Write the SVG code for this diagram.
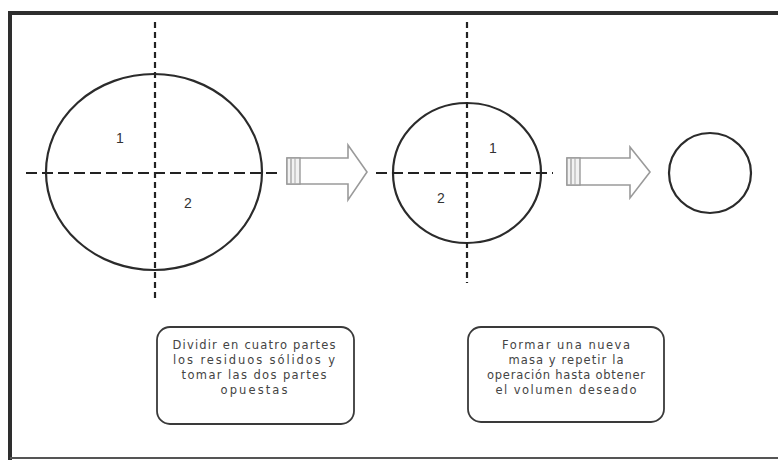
<svg xmlns="http://www.w3.org/2000/svg" width="778" height="460" viewBox="0 0 778 460">
<style>
.circ{fill:none;stroke:#2b2b2b;stroke-width:2.2}
.dh{stroke:#222;stroke-width:2;stroke-dasharray:11 5}
.dv{stroke:#222;stroke-width:2.2;stroke-dasharray:6 4}
.num{font-family:"Liberation Sans",Arial,sans-serif;font-size:14px;fill:#333;text-anchor:middle}
.box{fill:#fff;stroke:#3a3a3a;stroke-width:1.8}
.bt{font-family:"DejaVu Sans","Liberation Sans",sans-serif;font-size:11.5px;fill:#444;text-anchor:middle}
.arr{fill:#fff;stroke:#9a9a9a;stroke-width:1.6;stroke-linejoin:miter}
.tail{fill:#f2f2f2;stroke:#9a9a9a;stroke-width:1.4}
</style>
<rect width="778" height="460" fill="#fff"/>
<g id="frame">
<path d="M10,460 V13 H778" fill="none" stroke="#2e2e2e" stroke-width="4"/>
<path d="M10,458 H778" fill="none" stroke="#555" stroke-width="2"/>
</g>
<g id="node-big">
<ellipse class="circ" cx="154" cy="172" rx="108" ry="98"/>
<line class="dh" x1="26" y1="173" x2="280" y2="173"/>
<line class="dv" x1="155" y1="22" x2="155" y2="300"/>
<text class="num" x="120" y="143">1</text>
<text class="num" x="188" y="208">2</text>
</g>
<g id="node-mid">
<ellipse class="circ" cx="467" cy="173" rx="74" ry="70"/>
<line class="dh" x1="376" y1="173" x2="553" y2="173"/>
<line class="dv" x1="467" y1="22" x2="467" y2="283"/>
<text class="num" x="493" y="153">1</text>
<text class="num" x="441" y="203">2</text>
</g>
<g id="node-small">
<ellipse class="circ" cx="710" cy="173" rx="41" ry="40"/>
</g>
<g id="connectors">
<g id="arrow1">
<polygon class="arr" points="287,158 348,158 348,145 367,172 348,200 348,184 287,184"/>
<rect class="tail" x="287" y="158" width="13" height="26"/>
<line x1="291" y1="158" x2="291" y2="184" stroke="#aaa" stroke-width="1.5"/>
<line x1="295" y1="158" x2="295" y2="184" stroke="#aaa" stroke-width="1"/>
</g>
<g id="arrow2">
<polygon class="arr" points="567,158 630,158 630,147 650,172 630,198 630,185 567,185"/>
<rect class="tail" x="567" y="158" width="13" height="27"/>
<line x1="571" y1="158" x2="571" y2="185" stroke="#aaa" stroke-width="1.5"/>
<line x1="575" y1="158" x2="575" y2="185" stroke="#aaa" stroke-width="1"/>
</g>
</g>
<g id="box1">
<rect class="box" x="157" y="327" width="197" height="97" rx="13"/>
<text class="bt" x="254" y="349" textLength="163" lengthAdjust="spacing">Dividir en cuatro partes</text>
<text class="bt" x="254" y="364" textLength="162" lengthAdjust="spacing">los residuos sólidos y</text>
<text class="bt" x="254" y="379" textLength="145" lengthAdjust="spacing">tomar las dos partes</text>
<text class="bt" x="254" y="394" textLength="67" lengthAdjust="spacing">opuestas</text>
</g>
<g id="box2">
<rect class="box" x="468" y="327" width="196" height="95" rx="13"/>
<text class="bt" x="566" y="349" textLength="128" lengthAdjust="spacing">Formar una nueva</text>
<text class="bt" x="566" y="364" textLength="115" lengthAdjust="spacing">masa y repetir la</text>
<text class="bt" x="566" y="379" textLength="158" lengthAdjust="spacing">operación hasta obtener</text>
<text class="bt" x="566" y="394" textLength="141" lengthAdjust="spacing">el volumen deseado</text>
</g>
</svg>
